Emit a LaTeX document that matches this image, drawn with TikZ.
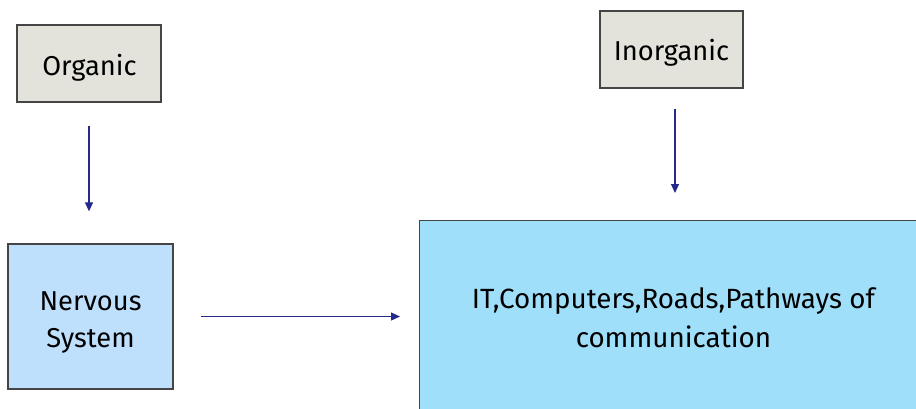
\documentclass[tikz,border=0pt]{standalone}
\usepackage{fontspec}
\setmainfont{Fira Sans}
\usetikzlibrary{arrows.meta}
\definecolor{boxgray}{HTML}{E3E3DC}
\definecolor{nervblue}{HTML}{BFE0FD}
\definecolor{bigblue}{HTML}{A0DFFA}
\definecolor{edgegray}{HTML}{454545}
\definecolor{arrowblue}{HTML}{232A8C}
\tikzset{
  graybox/.style={draw=edgegray, line width=1.3pt, fill=boxgray, inner sep=0pt},
  label text/.style={inner sep=0pt, anchor=base, align=center, font=\fontsize{27.3}{38}\selectfont},
  link/.style={draw=arrowblue, line width=1.2pt, -{Triangle[length=9pt,width=8pt]}}
}
\begin{document}
\begin{tikzpicture}[x=1pt,y=-1pt]
\useasboundingbox (0,0) rectangle (916,408);
\node[graybox, minimum width=144pt, minimum height=77pt] (org) at (89,63.5) {};
\node[label text] (orgtext) at (89.5,75) {Organic};
\node[graybox, minimum width=143pt, minimum height=77pt] (inorg) at (671.5,49.5) {};
\node[label text] (inorgtext) at (671.5,60) {Inorganic};
\node[graybox, fill=nervblue, minimum width=165pt, minimum height=145pt] (nerv) at (90.5,316.5) {};
\node[label text, font=\fontsize{27.3}{37}\selectfont] (nervtext) at (90.5,347) {Nervous\\System};
\begin{scope}
\clip (0,0) rectangle (916,408);
\node[graybox, fill=bigblue, minimum width=520pt, minimum height=220pt, anchor=north west] (big) at (419,220) {};
\end{scope}
\node[label text, font=\fontsize{27.8}{39}\selectfont] (bigtext) at (673.5,347) {IT,Computers,Roads,Pathways of\\communication};
\draw[link, shorten <=23pt, shorten >=32pt] (org.south) -- (org.south |- nerv.north);
\draw[link, shorten <=20pt, shorten >=27pt] ([xshift=3.5pt]inorg.south) -- ([xshift=3.5pt]inorg.south |- big.north);
\draw[link, shorten <=27pt, shorten >=19pt] (nerv.east) -- (nerv.east -| big.west);
\end{tikzpicture}
\end{document}
